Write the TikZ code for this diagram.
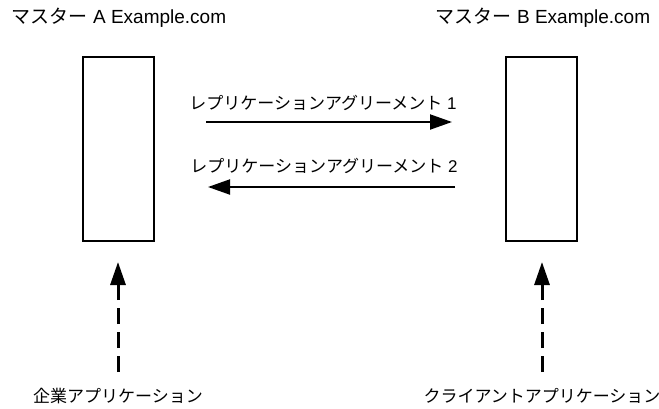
\documentclass[tikz,border=0pt]{standalone}
\usepackage{fontspec}
\setmainfont{Liberation Sans}
\newfontfamily\jp{Noto Sans CJK JP}
\usetikzlibrary{arrows.meta}
\begin{document}
\begin{tikzpicture}[x=1pt,y=-1pt,
  box/.style={draw,line width=1.5pt},
  txt/.style={inner sep=0pt,font=\fontsize{17}{20}\selectfont},
  ttl/.style={inner sep=0pt,font=\fontsize{19}{22}\selectfont},
  solidarrow/.style={line width=2pt,-{Triangle[length=22pt,width=15pt]}},
  dasharrow/.style={line width=3pt,dash pattern=on 16pt off 8pt,-{Triangle[length=23pt,width=15pt]}}]
\useasboundingbox (0,0) rectangle (659,408);
\draw[box] (83,57) rectangle (154,241);
\draw[box] (506,57) rectangle (577,241);
\coordinate (Abot) at (118,262);
\coordinate (Bbot) at (542,262);
\node[ttl] (tA) at (119,18) {{\jp マスター} A Example.com};
\node[ttl] (tB) at (543,18) {{\jp マスター} B Example.com};
\node[txt] (l1) at (323,103) {{\jp レプリケーションアグリーメント} 1};
\node[txt] (l2) at (324,166) {{\jp レプリケーションアグリーメント} 2};
\coordinate (a1s) at (206,122);
\coordinate (a1e) at (452,122);
\coordinate (a2s) at (455,187);
\coordinate (a2e) at (208,187);
\draw[solidarrow] (a1s) -- (a1e);
\draw[solidarrow] (a2s) -- (a2e);
\node[txt] (eA) at (118,396) {\jp 企業アプリケーション};
\node[txt] (cB) at (542,396) {\jp クライアントアプリケーション};
\coordinate (eAt) at (118,372);
\coordinate (cBt) at (542,372);
\draw[dasharrow] (eAt) -- (Abot);
\draw[dasharrow] (cBt) -- (Bbot);
\end{tikzpicture}
\end{document}
